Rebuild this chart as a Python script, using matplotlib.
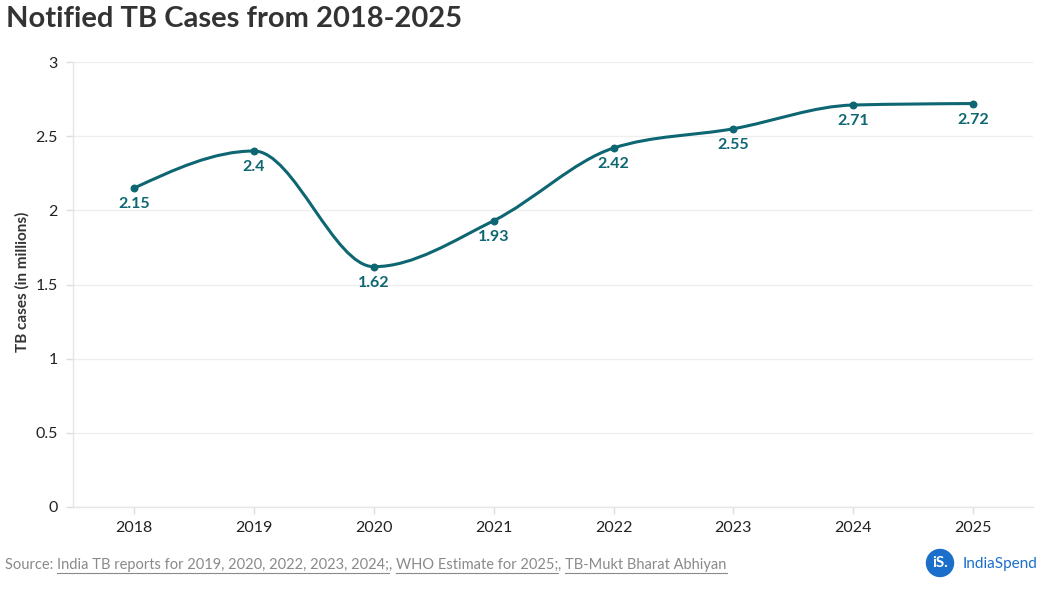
import matplotlib
matplotlib.use("Agg")
import matplotlib.pyplot as plt
import numpy as np
from matplotlib.path import Path
from matplotlib.patches import PathPatch, Ellipse
from matplotlib.lines import Line2D

years = [2018, 2019, 2020, 2021, 2022, 2023, 2024, 2025]
cases = [2.15, 2.4, 1.62, 1.93, 2.42, 2.55, 2.71, 2.72]
labels = ["2.15", "2.4", "1.62", "1.93", "2.42", "2.55", "2.71", "2.72"]
yticks = [0, 0.5, 1, 1.5, 2, 2.5, 3]
ytick_labels = ["0", "0.5", "1", "1.5", "2", "2.5", "3"]

LINE = "#0d6671"
FONT = ["Lato", "DejaVu Sans"]
plt.rcParams['font.family'] = FONT

fig = plt.figure(figsize=(10.48, 5.90), dpi=100)
ax = fig.add_axes([73/1048, 1 - 507/590, (1033-73)/1048, (507-62)/590])

def monotone_path(x, y):
    x = np.asarray(x, float); y = np.asarray(y, float)
    n = len(x)
    h = np.diff(x); s = np.diff(y) / h
    t = np.zeros(n)
    for i in range(1, n - 1):
        s0, s1, h0, h1 = s[i-1], s[i], h[i-1], h[i]
        p = (s0 * h1 + s1 * h0) / (h0 + h1)
        t[i] = (np.sign(s0) + np.sign(s1)) * min(abs(s0), abs(s1), 0.5 * abs(p))
    t[0] = (3 * s[0] - t[1]) / 2
    t[-1] = (3 * s[-1] - t[-2]) / 2
    verts = [(x[0], y[0])]; codes = [Path.MOVETO]
    for i in range(n - 1):
        dx = (x[i+1] - x[i]) / 3
        verts += [(x[i] + dx, y[i] + dx * t[i]), (x[i+1] - dx, y[i+1] - dx * t[i+1]), (x[i+1], y[i+1])]
        codes += [Path.CURVE4] * 3
    return Path(verts, codes)

ax.add_patch(PathPatch(monotone_path(years, cases), facecolor="none", edgecolor=LINE, lw=2.2, zorder=3))
ax.scatter(years, cases, s=22, color=LINE, zorder=4)
for xv, yv, lab in zip(years, cases, labels):
    ax.annotate(lab, (xv, yv), xytext=(0, -6.5), textcoords="offset points",
                ha="center", va="top", fontsize=11.5, fontweight="bold", color=LINE)

ax.set_xlim(2017.49, 2025.5)
ax.set_ylim(0, 3)
ax.set_yticks(yticks)
ax.set_yticklabels(ytick_labels)
ax.set_xticks(years)
ax.set_xticklabels([str(y) for y in years])
ax.grid(axis="y", color="#eeeeee", lw=0.9)
ax.set_axisbelow(True)
for sp in ["top", "right"]:
    ax.spines[sp].set_visible(False)
for sp in ["left", "bottom"]:
    ax.spines[sp].set_color("#e6e6e6")
    ax.spines[sp].set_linewidth(1.0)
ax.tick_params(axis="both", colors="#dddddd", labelcolor="#222222", labelsize=11.5, length=5, width=1)
ax.tick_params(axis="y", pad=6)
ax.tick_params(axis="x", pad=5)
ax.set_ylabel("TB cases (in millions)", fontsize=11, fontweight="bold", color="#333333")
ax.yaxis.set_label_coords(-43/960, 0.506)

fig.text(6/1048, 1 - 19/590, "Notified TB Cases from 2018-2025", fontsize=21, fontweight="bold",
         color="#333333", va="center", ha="left")

# source line
src_parts = [("Source: ", False), ("India TB reports for 2019, 2020, 2022, 2023, 2024;", True), (", ", False),
             ("WHO Estimate for 2025;", True), (", ", False), ("TB-Mukt Bharat Abhiyan", True)]
fig.canvas.draw()
renderer = fig.canvas.get_renderer()
xpos = 5
ypix = 565
for txt, und in src_parts:
    t = fig.text(xpos / 1048, 1 - ypix / 590, txt, fontsize=10.5, color="#8a8a8a", va="center", ha="left")
    bb = t.get_window_extent(renderer=renderer)
    if und:
        yline = bb.y0 - 1
        fig.add_artist(Line2D([bb.x0 / 1048, bb.x1 / 1048], [yline / 590, yline / 590],
                              transform=fig.transFigure, color="#8a8a8a", lw=0.8))
    xpos += bb.width

# logo
fig.add_artist(Ellipse((940 / 1048, 1 - 563 / 590), 27 / 1048, 27 / 590, transform=fig.transFigure,
                       color="#1b6fcb", zorder=5))
fig.text(940 / 1048, 1 - 563 / 590, "iS.", fontsize=11, fontweight="bold", color="white",
         ha="center", va="center", zorder=6)
fig.text(963 / 1048, 1 - 564 / 590, "IndiaSpend", fontsize=11, color="#1b6fcb", ha="left", va="center")

fig.savefig("out.png", dpi=100)
